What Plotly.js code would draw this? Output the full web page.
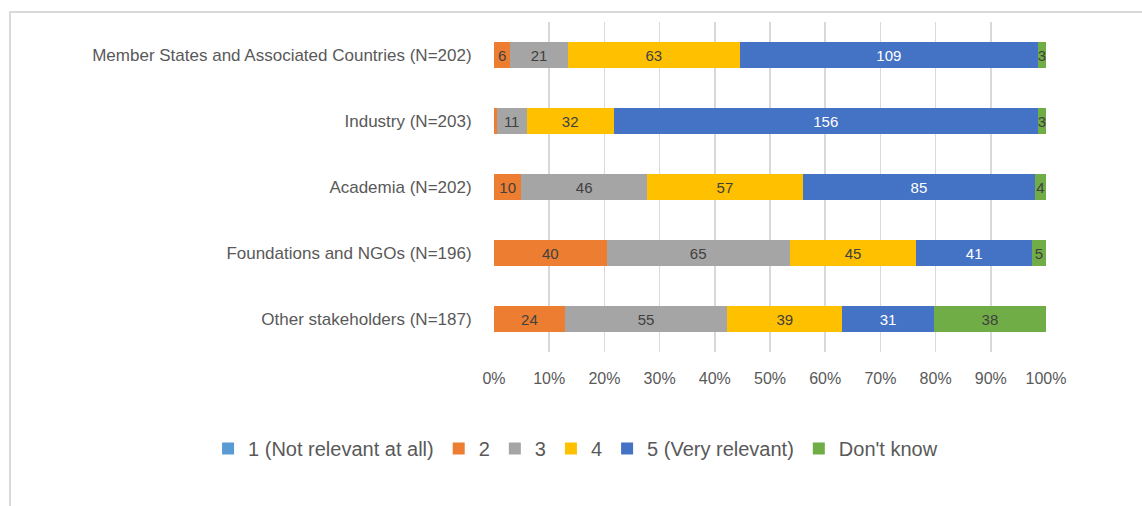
<!DOCTYPE html>
<html>
<head>
<meta charset="utf-8">
<script src="https://cdn.plot.ly/plotly-3.0.1.min.js"></script>
<style>
  html, body { margin: 0; padding: 0; background: #ffffff; }
  #wrap { position: relative; width: 1142px; height: 506px; overflow: hidden; }
  #chart { width: 1142px; height: 506px; }
  #frame { position: absolute; left: 9px; top: 11px; width: 1200px; height: 600px;
           border-left: 2px solid #d9d9d9; border-top: 2px solid #d9d9d9; pointer-events: none; }
</style>
</head>
<body>
<div id="wrap">
  <div id="chart"></div>
  <div id="frame"></div>
</div>
<script>
const categories = [
  "Member States and Associated Countries (N=202)",
  "Industry (N=203)",
  "Academia (N=202)",
  "Foundations and NGOs (N=196)",
  "Other stakeholders (N=187)"
];
const seriesNames = ["1 (Not relevant at all)", "2", "3", "4", "5 (Very relevant)", "Don't know"];
const s1 = [0, 0, 0, 0, 0];
const s2 = [6, 1, 10, 40, 24];
const s3 = [21, 11, 46, 65, 55];
const s4 = [63, 32, 57, 45, 39];
const s5 = [109, 156, 85, 41, 31];
const sDK = [3, 3, 4, 5, 38];
const tickLabels = ["0%", "10%", "20%", "30%", "40%", "50%", "60%", "70%", "80%", "90%", "100%"];

const colors = ["#5B9BD5", "#ED7D31", "#A5A5A5", "#FFC000", "#4472C4", "#70AD47"];
const textColors = ["#404040", "#404040", "#404040", "#404040", "#ffffff", "#404040"];
const allSeries = [s1, s2, s3, s4, s5, sDK];
const totals = categories.map((c, i) => allSeries.reduce((a, s) => a + s[i], 0));

const font = "Liberation Sans, Arial, sans-serif";

const traces = allSeries.map((vals, k) => ({
  type: "bar",
  orientation: "h",
  name: seriesNames[k],
  y: categories,
  x: vals,
  marker: { color: colors[k], line: { width: 0 } },
  text: vals.map((v, i) => (v > 0 && v / totals[i] > 0.01) ? String(v) : ""),
  textposition: "inside",
  insidetextanchor: "middle",
  textangle: 0,
  insidetextfont: { family: font, size: 15, color: textColors[k] },
  hoverinfo: "name+x"
}));

const layout = {
  width: 1142,
  height: 506,
  margin: { l: 494, r: 96, t: 22, b: 154, pad: 0 },
  paper_bgcolor: "#ffffff",
  plot_bgcolor: "#ffffff",
  barmode: "stack",
  barnorm: "percent",
  bargap: 0.61,
  font: { family: font, size: 15, color: "#595959" },
  uniformtext: { mode: "show", minsize: 15 },
  xaxis: {
    range: [0, 100],
    tickvals: [0, 10, 20, 30, 40, 50, 60, 70, 80, 90, 100],
    ticktext: tickLabels,
    showgrid: true,
    gridcolor: "#d9d9d9",
    gridwidth: 1.5,
    zeroline: false,
    showline: false,
    ticks: "outside",
    ticklen: 12,
    tickcolor: "rgba(0,0,0,0)",
    tickfont: { family: font, size: 16, color: "#595959" },
    fixedrange: true
  },
  yaxis: {
    type: "category",
    categoryorder: "array",
    categoryarray: categories,
    autorange: "reversed",
    showgrid: false,
    zeroline: false,
    showline: false,
    ticks: "outside",
    ticklen: 18,
    tickcolor: "rgba(0,0,0,0)",
    tickfont: { family: font, size: 17, color: "#595959" },
    fixedrange: true
  },
  showlegend: true,
  legend: {
    orientation: "h",
    xref: "paper",
    yref: "paper",
    x: -0.518,
    xanchor: "left",
    y: -0.2924,
    yanchor: "middle",
    font: { family: font, size: 20, color: "#595959" },
    traceorder: "normal",
    itemclick: false,
    itemdoubleclick: false
  }
};

Plotly.newPlot("chart", traces, layout, { displayModeBar: false, staticPlot: true });
</script>
</body>
</html>
